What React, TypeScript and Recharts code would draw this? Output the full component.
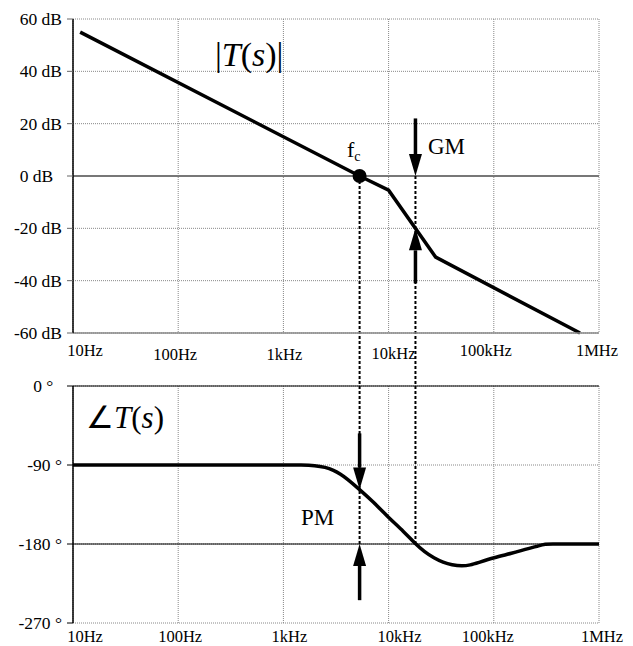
import { LineChart, Line, XAxis, YAxis, CartesianGrid, ReferenceLine, ReferenceDot } from 'recharts';

// frequency axis (log)
const freqTicks = [10, 100, 1000, 10000, 100000, 1000000];
const freqLabels = ['10Hz', '100Hz', '1kHz', '10kHz', '100kHz', '1MHz'];

// magnitude |T(s)| (asymptotic)
const magFreq = [11.7, 5300, 10000, 28000, 660000];
const magDb = [55, 0, -5.4, -31, -60];
const magTicks = [-60, -40, -20, 0, 20, 40, 60];
const magTickLabels = ['-60 dB', '-40 dB', '-20 dB', '0 dB  ', '20 dB', '40 dB', '60 dB'];

// phase of T(s)
const phaseFreq = [10, 1000, 1500, 2000, 2500, 3000, 3500, 4000, 5300, 7000, 10000, 14000, 18000, 22000, 27000, 33000, 40000, 50000, 60000, 70000, 100000, 150000, 200000, 260000, 310000, 360000, 450000, 1000000];
const phaseDeg = [-90, -90, -90, -90.5, -92.5, -96, -100.5, -105.5, -118, -131, -150, -166, -180, -189, -196, -201, -204, -205.3, -204, -201.5, -195.5, -190.5, -186, -182.5, -180, -179.8, -180, -180];
const phaseTicks = [-270, -180, -90, 0];
const phaseTickLabels = ['-270 °', '-180 °', '-90 °', '0 °  '];

// crossover / margins
const fc = 5300;
const fGM = 18000;
const gmDb = -20;
const pmPhase = -118;

const magData = magFreq.map((f, i) => ({ f, db: magDb[i] }));
const phaseData = phaseFreq.map((f, i) => ({ f, deg: phaseDeg[i] }));

const FONT = '"Liberation Serif", "Times New Roman", serif';

const Arrow = (props: any) => {
  const { x1, y1, x2, y2 } = props;
  const dir = Math.sign(y2 - y1);
  const head = 22;
  const half = 6.5;
  return (
    <g>
      <line x1={x1} y1={y1} x2={x2} y2={y2 - dir * head} stroke="#000" strokeWidth={3.5} />
      <polygon points={`${x2},${y2} ${x2 - half},${y2 - dir * head} ${x2 + half},${y2 - dir * head}`} fill="#000" />
    </g>
  );
};

const makeXTick = (dxs: number[], dys: number[]) => (props: any) => {
  const { x, y, index } = props;
  return (
    <text x={x + dxs[index]} y={y + dys[index]} textAnchor="middle" dominantBaseline="central"
      fontFamily={FONT} fontSize={16.5} fill="#000">
      {freqLabels[index]}
    </text>
  );
};

const makeYTick = (ticks: number[], labels: string[]) => (props: any) => {
  const { x, y, payload } = props;
  return (
    <text x={x} y={y} textAnchor="end" dominantBaseline="central" fontFamily={FONT} fontSize={17.5}
      fill="#000" style={{ whiteSpace: 'pre' }}>
      {labels[ticks.indexOf(payload.value)]}
    </text>
  );
};

const TopXTick = makeXTick([12, -3, 1, 5, -8, -2], [17, 21, 21, 20, 17, 17]);
const BottomXTick = makeXTick([12, 2, 6, 11, -6, 3], [13, 13, 13, 13, 13, 13]);
const MagYTick = makeYTick(magTicks, magTickLabels);
const PhaseYTick = makeYTick(phaseTicks, phaseTickLabels);

const dotted = { stroke: '#000', strokeWidth: 2, strokeDasharray: '3 2' };

export default function App() {
  return (
    <div style={{ position: 'absolute', left: 0, top: 0, width: 633, height: 646, background: '#fff', overflow: 'hidden' }}>
      <div style={{ position: 'absolute', left: 0, top: 0 }}>
        <LineChart width={633} height={390} data={magData} margin={{ top: 19, right: 34, bottom: 17, left: 0 }}>
          <CartesianGrid stroke="#888" strokeDasharray="1 1" />
          <XAxis dataKey="f" type="number" scale="log" domain={[10, 1000000]} ticks={freqTicks} allowDataOverflow
            height={40} tickSize={0} tickMargin={0} tick={<TopXTick />} axisLine={{ stroke: '#888', strokeWidth: 1.5 }} />
          <YAxis type="number" domain={[-60, 60]} ticks={magTicks} interval={0} width={73} tickSize={6} tickMargin={5}
            tick={<MagYTick />} axisLine={{ stroke: '#000', strokeWidth: 1.5 }} tickLine={{ stroke: '#666' }} />
          <ReferenceLine y={0} stroke="#777" strokeWidth={2} />
          <ReferenceLine segment={[{ x: fc, y: 0 }, { x: fc, y: -80 }]} ifOverflow="visible" {...dotted} />
          <ReferenceLine segment={[{ x: fGM, y: 0 }, { x: fGM, y: -80 }]} ifOverflow="visible" {...dotted} />
          <Line dataKey="db" type="linear" stroke="#000" strokeWidth={3.5} dot={false} activeDot={false} isAnimationActive={false} />
          <ReferenceLine segment={[{ x: fGM, y: 22 }, { x: fGM, y: 0 }]} ifOverflow="visible" shape={Arrow} />
          <ReferenceLine segment={[{ x: fGM, y: -41 }, { x: fGM, y: gmDb }]} ifOverflow="visible" shape={Arrow} />
          <ReferenceDot x={fc} y={0} r={7} fill="#000" stroke="none" />
        </LineChart>
      </div>
      <div style={{ position: 'absolute', left: 0, top: 370 }}>
        <LineChart width={633} height={276} data={phaseData} margin={{ top: 16, right: 34, bottom: 0, left: 0 }}>
          <CartesianGrid stroke="#888" strokeDasharray="1 1" />
          <XAxis dataKey="f" type="number" scale="log" domain={[10, 1000000]} ticks={freqTicks} allowDataOverflow
            height={23} tickSize={0} tickMargin={0} tick={<BottomXTick />} axisLine={false} />
          <YAxis type="number" domain={[-270, 0]} ticks={phaseTicks} interval={0} width={73} tickSize={6} tickMargin={5}
            tick={<PhaseYTick />} axisLine={{ stroke: '#000', strokeWidth: 1.5 }} tickLine={{ stroke: '#000' }} />
          <ReferenceLine y={0} stroke="#000" strokeWidth={1} />
          <ReferenceLine y={-180} stroke="#000" strokeWidth={1} />
          <ReferenceLine segment={[{ x: fc, y: 0 }, { x: fc, y: -180 }]} ifOverflow="visible" {...dotted} />
          <ReferenceLine segment={[{ x: fGM, y: 0 }, { x: fGM, y: -180 }]} ifOverflow="visible" {...dotted} />
          <Line dataKey="deg" type="basis" stroke="#000" strokeWidth={3.5} dot={false} activeDot={false} isAnimationActive={false} />
          <ReferenceLine segment={[{ x: fc, y: -54 }, { x: fc, y: pmPhase }]} ifOverflow="visible" shape={Arrow} />
          <ReferenceLine segment={[{ x: fc, y: -244 }, { x: fc, y: -180 }]} ifOverflow="visible" shape={Arrow} />
        </LineChart>
      </div>
      <svg width={633} height={646} style={{ position: 'absolute', left: 0, top: 0, pointerEvents: 'none' }}>
        <text x={215} y={66} fontFamily={FONT} fontSize={34} fill="#000">
          |<tspan fontStyle="italic">T</tspan>(<tspan fontStyle="italic">s</tspan>)|
        </text>
        <text x={347} y={157} fontFamily={FONT} fontSize={22} fill="#000">
          f<tspan fontSize={14} dy={4}>c</tspan>
        </text>
        <text x={428} y={154} fontFamily={FONT} fontSize={23} fill="#000">GM</text>
        <text x={86} y={428} fontFamily={FONT} fontSize={31} fill="#000">
          ∠<tspan fontStyle="italic">T</tspan>(<tspan fontStyle="italic">s</tspan>)
        </text>
        <text x={301} y={525} fontFamily={FONT} fontSize={23} fill="#000">PM</text>
      </svg>
    </div>
  );
}
